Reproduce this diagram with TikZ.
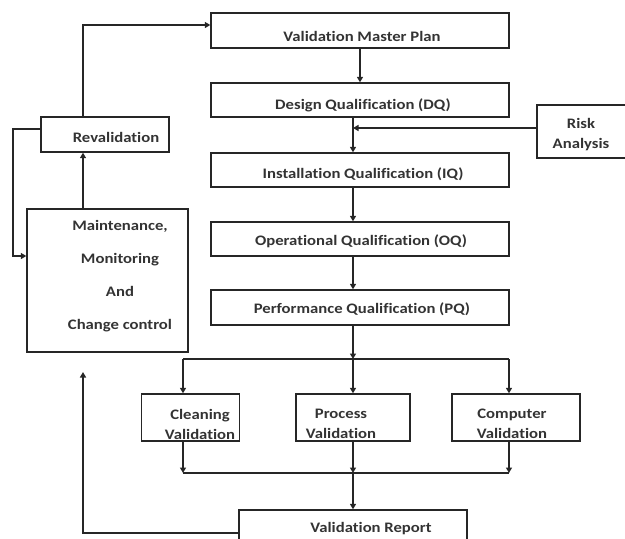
\documentclass[tikz,border=0pt]{standalone}
\usepackage{fontspec}
\setmainfont{Carlito}[FakeStretch=1.15,Ligatures={NoCommon,NoRare,NoDiscretionary}]
\usetikzlibrary{arrows.meta}
\begin{document}
\begin{tikzpicture}[x=1pt,y=-1pt,
  box/.style={draw=black!85,line width=1.4pt,rectangle,inner sep=0pt},
  txt/.style={text=black!80,font=\bfseries\fontsize{14.5}{20}\selectfont,inner sep=0pt},
  conn/.style={draw=black!85,line width=1.4pt},
  arr/.style={conn,-{Triangle[length=5.5pt,width=6pt]}}]
\useasboundingbox (0,0) rectangle (625,539);
\clip (0,0) rectangle (625,539);
% main column
\node[box,minimum width=298,minimum height=35] (vmp) at (360,30.5) {};
\node[box,minimum width=298,minimum height=34] (dq) at (360,100) {};
\node[box,minimum width=298,minimum height=34] (iq) at (360,170) {};
\node[box,minimum width=298,minimum height=34] (oq) at (360,239) {};
\node[box,minimum width=298,minimum height=35] (pq) at (360,307.5) {};
\node[txt,anchor=base] (tvmp) at (362,41) {Validation Master Plan};
\node[txt,anchor=base] (tdq) at (363,109) {Design Qualification (DQ)};
\node[txt,anchor=base] (tiq) at (363,178) {Installation Qualification (IQ)};
\node[txt,anchor=base] (toq) at (361,245) {Operational Qualification (OQ)};
\node[txt,anchor=base] (tpq) at (362,313) {Performance Qualification (PQ)};
% risk
\node[box,minimum width=95,minimum height=53] (risk) at (584.5,131.5) {};
\node[txt,align=center] (trisk) at (581,135) {Risk\\Analysis};
% left side
\node[box,minimum width=128,minimum height=35] (reval) at (105,134.5) {};
\node[txt,anchor=base] (treval) at (116,142) {Revalidation};
\node[box,minimum width=161,minimum height=143] (maint) at (107.5,280.5) {};
\node[txt,align=center,font=\bfseries\fontsize{14.5}{33}\selectfont] (tmaint) at (120,276) {Maintenance,\\Monitoring\\And\\Change control};
% validations
\node[box,minimum width=98,minimum height=47] (clean) at (190.5,417.5) {};
\node[box,minimum width=114,minimum height=47] (proc) at (353,417.5) {};
\node[box,minimum width=128,minimum height=47] (comp) at (516,417.5) {};
\node[txt,align=center] (tclean) at (200,424) {Cleaning\\Validation};
\node[txt,align=center] (tproc) at (341,424) {Process\\Validation};
\node[txt,align=center] (tcomp) at (512,424) {Computer\\Validation};
% report
\node[box,minimum width=228,minimum height=38] (vr) at (353,529) {};
\node[txt,anchor=base] (tvr) at (371,532) {Validation Report};
% coordinates
\coordinate (rj) at (353,128);
\coordinate (bj) at (353,359);
\coordinate (bl) at (183,359);
\coordinate (br) at (509,359);
\coordinate (cl) at (183,473);
\coordinate (cm) at (353,473);
\coordinate (cr) at (509,473);
\coordinate (mt) at (83,372);
% connectors
\draw[arr] (vmp) -- (dq);
\draw[arr] ([xshift=-7pt]dq.south) -- ([xshift=-7pt]iq.north);
\draw[arr] (risk.west |- rj) -- (rj);
\draw[arr] ([xshift=-7pt]iq.south) -- ([xshift=-7pt]oq.north);
\draw[arr] ([xshift=-7pt]oq.south) -- ([xshift=-7pt]pq.north);
\draw[arr] ([xshift=-7pt]pq.south) -- (bj);
\draw[conn] (bl) -- (br);
\draw[arr] (bl) -- (bl |- clean.north);
\draw[arr] (bj) -- (proc.north);
\draw[arr] (br) -- (br |- comp.north);
\draw[arr] (cl |- clean.south) -- (cl);
\draw[arr] (proc.south) -- (cm);
\draw[arr] (cr |- comp.south) -- (cr);
\draw[conn] (cl) -- (cr);
\draw[arr] (cm) -- (vr.north);
\draw[arr] ([yshift=-4pt]vr.west) -| (mt);
\draw[arr] (maint.north -| mt) -- (reval.south -| mt);
\draw[arr] (reval.north -| mt) |- ([yshift=5.5pt]vmp.west);
\draw[arr] ([yshift=5.5pt]reval.west) -| (13,256) -- (maint.west |- 0,256);
\end{tikzpicture}
\end{document}
